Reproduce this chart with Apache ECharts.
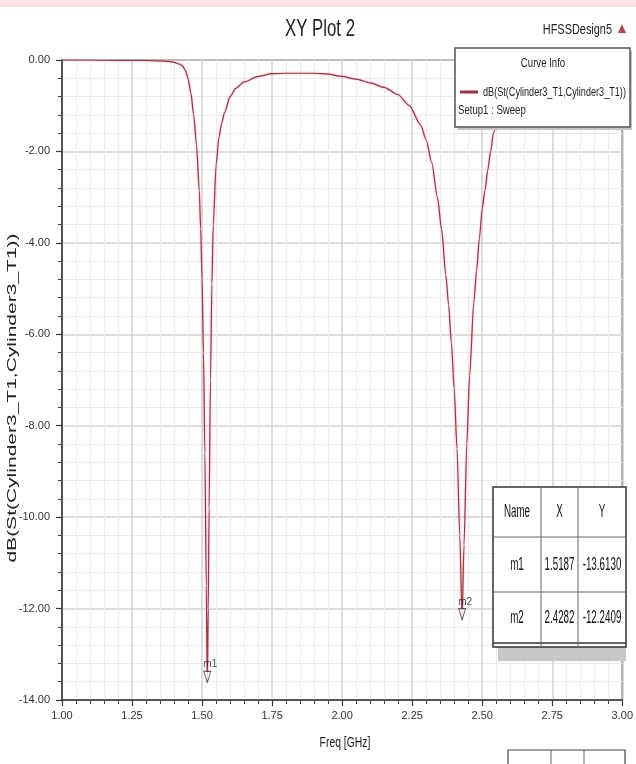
<!DOCTYPE html>
<html>
<head>
<meta charset="utf-8">
<title>XY Plot 2</title>
<script src="https://cdn.jsdelivr.net/npm/echarts@6/dist/echarts.min.js"></script>
<style>
  html, body { margin: 0; padding: 0; background: #fff; }
  #chart { width: 636px; height: 764px; }
</style>
</head>
<body>
<div id="chart"></div>
<script>
// curve: frequency in GHz, S11 in dB
var freq = [1.00, 1.10, 1.20, 1.30, 1.35, 1.38, 1.40, 1.42, 1.43, 1.44, 1.45, 1.46, 1.47, 1.48, 1.49, 1.495,
  1.50, 1.505, 1.51, 1.515, 1.5187, 1.522, 1.525, 1.53, 1.535, 1.54, 1.55, 1.56, 1.57, 1.58, 1.60, 1.62,
  1.65, 1.70, 1.75, 1.80, 1.85, 1.90, 1.95, 2.00, 2.05, 2.10, 2.15, 2.20, 2.24, 2.28, 2.30, 2.32, 2.34,
  2.355, 2.37, 2.38, 2.39, 2.40, 2.41, 2.42, 2.4282, 2.435, 2.445, 2.455, 2.47, 2.48, 2.49, 2.50, 2.51,
  2.52, 2.53, 2.54, 2.56, 2.60, 2.70, 2.80, 2.90, 3.00]
var sParam = [0.00, 0.00, -0.01, -0.01, -0.02, -0.03, -0.05, -0.09, -0.13, -0.22, -0.40, -0.72, -1.20, -1.85, -2.85, -3.70,
  -4.80, -6.40, -8.60, -11.50, -13.61, -12.00, -9.80, -7.00, -4.90, -3.60, -2.30, -1.70, -1.38, -1.15, -0.80, -0.62,
  -0.48, -0.36, -0.30, -0.29, -0.29, -0.29, -0.31, -0.36, -0.42, -0.50, -0.60, -0.76, -1.00, -1.42, -1.75, -2.25, -3.00,
  -3.70, -4.70, -5.35, -6.20, -7.20, -8.50, -10.40, -12.24, -10.60, -8.40, -6.90, -5.30, -4.60, -3.90, -3.25, -2.85,
  -2.40, -2.00, -1.60, -1.15, -0.70, -0.35, -0.22, -0.16, -0.13]

// markers and their table
var markerNames = ['m1', 'm2']
var markerFreq = [1.5187, 2.4282]
var markerDb = [-13.6130, -12.2409]
var tableHeader = ['Name', 'X', 'Y']

var curveName = 'dB(St(Cylinder3_T1,Cylinder3_T1))'
var sans = '"Liberation Sans", Arial, sans-serif'
var curveColor = '#9e3440'

// the screenshot is squeezed sideways, so texts get a narrow scaleX
function txt(x, y, text, size, opts) {
  opts = opts || {}
  return {
    type: 'text', x: x, y: y, z: 200,
    scaleX: opts.sx || 0.8, scaleY: opts.sy || 1, rotation: opts.rot || 0,
    style: {
      text: text, font: size + 'px ' + sans, fill: opts.color || '#222',
      textAlign: opts.align || 'center', textVerticalAlign: 'middle',
      align: opts.align || 'center', verticalAlign: 'middle'
    }
  }
}

function line(x1, y1, x2, y2, color, w) {
  return { type: 'line', z: 200, shape: { x1: x1, y1: y1, x2: x2, y2: y2 }, style: { stroke: color, lineWidth: w || 1 } }
}

function buildGraphic() {
  var g = []
  // faint pink band at the top of the screenshot
  g.push({ type: 'rect', z: 100, shape: { x: 0, y: 0, width: 636, height: 7 }, style: { fill: '#f8e4e6' } })
  g.push(txt(320, 30, 'XY Plot 2', 21, { sx: 0.8, sy: 1.1 }))
  g.push(txt(612, 30, 'HFSSDesign5', 14, { sx: 0.78, sy: 1.1, align: 'right' }))
  g.push({ type: 'polygon', z: 200, shape: { points: [[622, 24], [626, 33], [618, 33]] }, style: { fill: '#b04a50' } })
  g.push(txt(13, 398, curveName, 12, { rot: Math.PI / 2, sx: 1.75, sy: 1 }))
  g.push(txt(345, 743, 'Freq [GHz]', 13, { sx: 0.8, sy: 1.1 }))

  // curve info box
  g.push({ type: 'rect', z: 150, shape: { x: 458, y: 51, width: 174, height: 79 }, style: { fill: '#c4c4c4' } })
  g.push({ type: 'rect', z: 160, shape: { x: 455, y: 48, width: 175, height: 79 }, style: { fill: '#fff', stroke: '#555', lineWidth: 1.5 } })
  g.push(txt(543, 63, 'Curve Info', 12, { sx: 0.8, sy: 1.1 }))
  g.push(line(460, 92, 478, 92, curveColor, 3))
  g.push(txt(483, 92, curveName, 12, { sx: 0.76, sy: 1.1, align: 'left' }))
  g.push(txt(458, 110, 'Setup1 : Sweep', 12, { sx: 0.8, sy: 1.1, align: 'left' }))

  // marker table
  var tx = 493, ty = 487, colX = [493, 541, 578, 626], rowY = [487, 537, 592, 643]
  g.push({ type: 'rect', z: 150, shape: { x: tx + 5, y: 646, width: 128, height: 15 }, style: { fill: '#c8c8c8' } })
  g.push({ type: 'rect', z: 160, shape: { x: tx, y: ty, width: 133, height: 160 }, style: { fill: '#fff', stroke: '#333', lineWidth: 1.5 } })
  g.push(line(tx, 643, 626, 643, '#333', 1.5))
  g.push(line(colX[1], ty, colX[1], 647, '#666', 1))
  g.push(line(colX[2], ty, colX[2], 647, '#666', 1))
  g.push(line(tx, rowY[1], 626, rowY[1], '#666', 1))
  g.push(line(tx, rowY[2], 626, rowY[2], '#666', 1))
  var rows = [tableHeader].concat(markerNames.map(function (n, i) {
    return [n, markerFreq[i].toFixed(4), markerDb[i].toFixed(4)]
  }))
  rows.forEach(function (r, ri) {
    var cy = (rowY[ri] + rowY[ri + 1]) / 2
    r.forEach(function (c, ci) {
      g.push(txt((colX[ci] + colX[ci + 1]) / 2, cy, c, 14, { sx: 0.7, sy: 1.35, color: '#111' }))
    })
  })
  // second copy of the table, cut off at the bottom edge
  g.push({ type: 'rect', z: 160, shape: { x: 508, y: 750, width: 117, height: 30 }, style: { fill: '#fff', stroke: '#444', lineWidth: 1.2 } })
  g.push(line(551, 750, 551, 764, '#666', 1))
  g.push(line(584, 750, 584, 764, '#666', 1))
  return g
}

var chart = echarts.init(document.getElementById('chart'))

var axisCommon = {
  type: 'value',
  axisLine: { show: true, onZero: false, lineStyle: { color: '#333', width: 1.5 } },
  axisTick: { show: true, length: 6, lineStyle: { color: '#333', width: 1.2 } },
  minorTick: { show: true, splitNumber: 5, length: 4, lineStyle: { color: '#444' } },
  splitLine: { show: true, lineStyle: { color: '#d2d2d2', width: 1.5 } },
  minorSplitLine: { show: true, lineStyle: { color: '#ebebeb', width: 1 } },
  axisLabel: { fontFamily: sans, fontSize: 11, color: '#333', formatter: function (v) { return v.toFixed(2) } }
}

chart.setOption({
  animation: false,
  backgroundColor: '#fff',
  grid: { left: 62, right: 9, top: 60, bottom: 64, show: true, borderColor: '#555', borderWidth: 1.5, backgroundColor: '#fff' },
  xAxis: Object.assign({}, axisCommon, {
    min: 1, max: 3, interval: 0.25,
    axisLabel: Object.assign({}, axisCommon.axisLabel, { margin: 10 })
  }),
  yAxis: Object.assign({}, axisCommon, {
    min: -14, max: 0, interval: 2,
    axisLabel: Object.assign({}, axisCommon.axisLabel, { margin: 12 })
  }),
  series: [
    {
      type: 'line',
      name: curveName,
      data: freq.map(function (f, i) { return [f, sParam[i]] }),
      showSymbol: false,
      smooth: 0.25,
      smoothMonotone: 'x',
      lineStyle: { color: curveColor, width: 1.2, shadowColor: 'rgba(235,130,140,0.8)', shadowBlur: 2 },
      z: 3
    },
    {
      type: 'scatter',
      data: markerFreq.map(function (f, i) { return { name: markerNames[i], value: [f, markerDb[i]] } }),
      symbol: 'path://M0,0 L10,0 L5,14 Z',
      symbolSize: [7, 11],
      symbolOffset: [0, '-50%'],
      itemStyle: { color: '#fff', borderColor: '#333', borderWidth: 1 },
      label: { show: true, formatter: '{b}', position: 'top', distance: 1, offset: [3, 0], fontFamily: sans, fontSize: 10, color: '#222' },
      z: 5
    }
  ],
  graphic: buildGraphic()
})
</script>
</body>
</html>
